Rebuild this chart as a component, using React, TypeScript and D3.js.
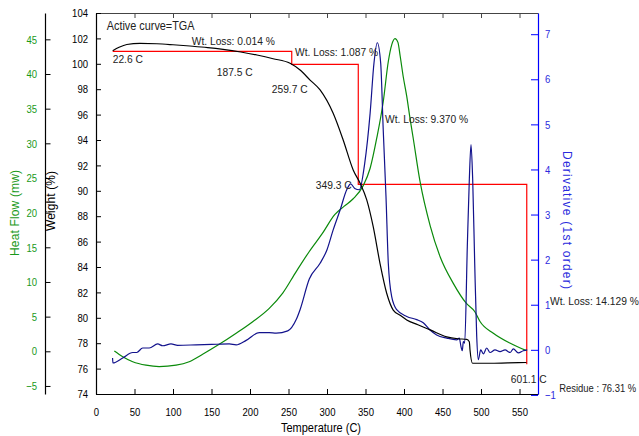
import React, { useRef, useEffect } from 'react';
import * as d3 from 'd3';

// TGA weight curve
const tgaTemp = [21.7, 30, 40, 57, 79, 100, 122, 145, 165, 188, 209, 230, 252, 265, 278, 291, 308, 321, 334, 343, 351.6, 360, 368.8, 377.5, 386, 395, 403.5, 418, 434, 455.5, 470, 481.4, 484.8, 485.7, 489, 510, 535, 559];
const tgaWeight = [101.03, 101.3, 101.52, 101.61, 101.58, 101.5, 101.4, 101.28, 101.14, 100.93, 100.69, 100.4, 100.04, 99.51, 98.72, 97.94, 96.1, 94.0, 91.64, 90.59, 89.28, 87.17, 84.29, 81.93, 80.61, 80.2, 79.83, 79.45, 79.05, 78.5, 78.35, 78.3, 78.12, 77.46, 76.42, 76.42, 76.45, 76.48];

// heat flow curve
const hfTemp = [23.8, 34.7, 47.7, 65, 82, 104, 121, 138.5, 160, 182, 203.5, 225, 242.5, 260, 277, 294, 310, 322, 334, 347, 356, 364.5, 373, 379.6, 384, 388.3, 392, 395, 399, 403.5, 407.8, 412, 420.8, 434, 447, 464, 481, 492, 498.7, 516, 538, 559];
const heatFlow = [0.04, -0.78, -1.5, -2.0, -2.2, -2.0, -1.5, -0.43, 1.0, 2.6, 4.27, 6.2, 8.4, 11.5, 14.4, 17.0, 19.7, 20.9, 22.0, 23.9, 26.4, 30.7, 36.0, 41.8, 44.2, 45.1, 44.6, 42.6, 39.6, 36.8, 33.6, 30.7, 24.5, 18.1, 13.6, 9.8, 6.9, 5.7, 4.3, 2.6, 1.15, 0.1];

// derivative curve
const derivTemp = [21.5, 22, 34.7, 47.7, 52.9, 60.6, 69.2, 80.1, 86.6, 97.4, 106, 130, 150, 173, 182, 195, 212, 225, 234, 249, 260, 265, 277, 291, 300, 308, 317, 325.6, 330.8, 336, 342, 349, 356, 361, 365.3, 369.7, 373, 376.6, 379.6, 384, 390.5, 403.5, 416.5, 425, 433.8, 442.4, 455.5, 468.4, 471.8, 474, 475.7, 477, 478.8, 482.2, 484.8, 487, 489.2, 491.8, 494.4, 496.5, 499.6, 503, 507.4, 511.7, 518.2, 524.7, 531.2, 537.7, 542, 548.4, 554.9, 560];
const derivative = [-0.18, -0.29, -0.18, -0.06, -0.06, 0.04, 0.04, 0.13, 0.09, 0.13, 0.1, 0.11, 0.12, 0.13, 0.11, 0.21, 0.38, 0.38, 0.37, 0.42, 0.67, 0.89, 1.57, 1.92, 2.22, 2.66, 3.1, 3.55, 3.68, 3.58, 3.55, 4.14, 5.25, 6.36, 6.81, 6.36, 4.88, 3.4, 1.92, 1.18, 0.89, 0.74, 0.67, 0.6, 0.44, 0.33, 0.26, 0.22, 0.26, 0.07, -0.02, 0.18, 0.15, 2.29, 3.77, 4.55, 3.77, 1.92, 0.3, -0.22, 0, -0.09, 0.04, -0.06, 0, -0.04, 0, -0.06, 0.02, -0.07, -0.02, 0];

// step analysis (temperature, weight)
const stepTemp = [21.7, 254.2, 254.2, 340.6, 340.6, 559.4, 559.4];
const stepWeight = [100.98, 100.98, 99.96, 99.96, 90.51, 90.51, 76.34];

const noteText = ['Active curve=TGA', 'Wt. Loss: 0.014 %', '22.6 C', '187.5 C', '259.7 C', 'Wt. Loss: 1.087 %', 'Wt. Loss: 9.370 %', '349.3 C', 'Wt. Loss: 14.129 %', '601.1 C', 'Residue : 76.31 %'];
const noteTemp = [13.9, 124.3, 21.7, 156.8, 228.2, 258.4, 375.3, 332.1, 589.6, 538.6, 601.5];
const noteWeight = [102.66, 101.48, 100.04, 99.04, 97.68, 100.64, 95.31, 90.14, 81.0, 74.89, 74.18];

const tempTicks = d3.range(0, 551, 50);
const weightTicks = d3.range(74, 105, 2);
const heatTicks = d3.range(-5, 46, 5);
const derivTicks = d3.range(-1, 8, 1);

const FONT = '"Liberation Sans", Arial, sans-serif';

const App = () => {
  const svgRef = useRef(null);
  const width = 639;
  const height = 436;

  useEffect(() => {
    const svg = d3.select(svgRef.current);
    svg.selectAll('*').remove();

    const left = 96, right = 538, top = 13, bottom = 394;

    const x = d3.scaleLinear().domain([0, 574]).range([left, right]);
    const yW = d3.scaleLinear().domain([74, 104]).range([bottom, top]);
    const yH = d3.scaleLinear().domain([-6.16, 48.8]).range([bottom, top]);
    const yD = d3.scaleLinear().domain([-0.98, 7.47]).range([bottom, top]);

    // narrow look: squeeze text horizontally
    const K = 0.83;
    const styleAxis = (g, color, labelColor) => {
      g.selectAll('path').attr('stroke', color).attr('stroke-width', 1.2);
      g.selectAll('line').attr('stroke', color);
      g.selectAll('text')
        .attr('fill', labelColor)
        .style('font-family', FONT)
        .style('font-size', '11.5px')
        .each(function () {
          const t = d3.select(this);
          const xv = +(t.attr('x') || 0);
          t.attr('x', xv / K).attr('transform', `scale(${K},1)`);
        });
    };

    // bottom axis
    const gx = svg.append('g').attr('transform', `translate(0,${bottom})`);
    gx.call(d3.axisBottom(x).tickValues(d3.range(0, 571, 10)).tickSize(-2.5).tickFormat(() => '').tickSizeOuter(0));
    gx.call(d3.axisBottom(x).tickValues(tempTicks).tickSize(-5).tickPadding(14).tickSizeOuter(0).tickFormat(d3.format('d')));
    styleAxis(gx, '#000', '#000');

    // top border with inward ticks
    const gt = svg.append('g').attr('transform', `translate(0,${top})`);
    gt.call(d3.axisTop(x).tickValues(d3.range(0, 571, 10)).tickSize(-2.5).tickFormat(() => '').tickSizeOuter(0));
    gt.call(d3.axisTop(x).tickValues(tempTicks).tickSize(-5).tickFormat(() => '').tickSizeOuter(0));
    styleAxis(gt, '#444', '#000');

    // weight axis
    const gw = svg.append('g').attr('transform', `translate(${left},0)`);
    gw.call(d3.axisLeft(yW).tickValues(d3.range(74, 104.1, 0.5)).tickSize(-2.5).tickFormat(() => '').tickSizeOuter(0));
    gw.call(d3.axisLeft(yW).tickValues(weightTicks).tickSize(-5).tickPadding(8).tickSizeOuter(0).tickFormat(d3.format('d')));
    styleAxis(gw, '#000', '#000');

    // heat flow axis
    const gh = svg.append('g').attr('transform', 'translate(45,0)');
    gh.call(d3.axisLeft(yH).tickValues(d3.range(-6.25, 48.8, 1.25)).tickSize(-2.7).tickFormat(() => '').tickSizeOuter(0));
    gh.call(d3.axisLeft(yH).tickValues(heatTicks).tickSize(-5.5).tickPadding(8).tickSizeOuter(0).tickFormat(d3.format('d')));
    styleAxis(gh, '#000', '#1a991a');

    // derivative axis
    const gd = svg.append('g').attr('transform', `translate(${right},0)`);
    gd.call(d3.axisRight(yD).tickValues(d3.range(-0.8, 7.45, 0.2)).tickSize(-3).tickFormat(() => '').tickSizeOuter(0));
    gd.call(d3.axisRight(yD).tickValues(derivTicks).tickSize(-7).tickPadding(7).tickSizeOuter(0).tickFormat(d3.format('d')));
    styleAxis(gd, '#0000ff', '#2b2bdd');

    // axis titles (lengths)
    const title = (txt, tx, ty, rot, color, len, adjust) =>
      svg.append('text')
        .attr('transform', `translate(${tx},${ty}) rotate(${rot})`)
        .attr('text-anchor', 'middle')
        .attr('fill', color)
        .attr('textLength', len)
        .attr('lengthAdjust', adjust)
        .style('font-family', FONT)
        .style('font-size', '12px')
        .text(txt);
    title('Temperature (C)', 321, 432, 0, '#000', 80, 'spacingAndGlyphs');
    title('Heat Flow (mw)', 18.5, 213, -90, '#1a991a', 86, 'spacing');
    title('Weight (%)', 55, 201, -90, '#000', 60, 'spacing');
    title('Derivative (1st order)', 562.5, 220, 90, '#2b2bdd', 138, 'spacing');

    // step analysis lines
    const stepLine = d3.line().x(i => x(stepTemp[i])).y(i => yW(stepWeight[i]));
    svg.append('path')
      .attr('d', stepLine(d3.range(stepTemp.length)))
      .attr('fill', 'none')
      .attr('stroke', '#ff0000')
      .attr('stroke-width', 1.2);

    const curve = (xs, ys, yScale, color) => {
      const line = d3.line().x(i => x(xs[i])).y(i => yScale(ys[i])).curve(d3.curveMonotoneX);
      svg.append('path')
        .attr('d', line(d3.range(xs.length)))
        .attr('fill', 'none')
        .attr('stroke', color)
        .attr('stroke-width', 1.2);
    };
    curve(hfTemp, heatFlow, yH, '#0a8a0a');
    curve(derivTemp, derivative, yD, '#12128c');
    curve(tgaTemp, tgaWeight, yW, '#000000');

    // annotations
    noteText.forEach((txt, i) => {
      const k = txt.startsWith('Residue') ? 0.8 : 0.87;
      svg.append('g')
        .attr('transform', `translate(${x(noteTemp[i])},${yW(noteWeight[i])}) scale(${k},1)`)
        .append('text')
        .attr('text-anchor', txt === '349.3 C' ? 'end' : 'start')
        .attr('fill', '#222')
        .style('font-family', FONT)
        .style('font-size', i === 0 ? '12.5px' : '11.8px')
        .text(txt);
    });
  }, []);

  return (
    <svg
      ref={svgRef}
      width={width}
      height={height}
      style={{ position: 'absolute', left: 0, top: 0, background: '#fff' }}
    />
  );
};

export default App;
